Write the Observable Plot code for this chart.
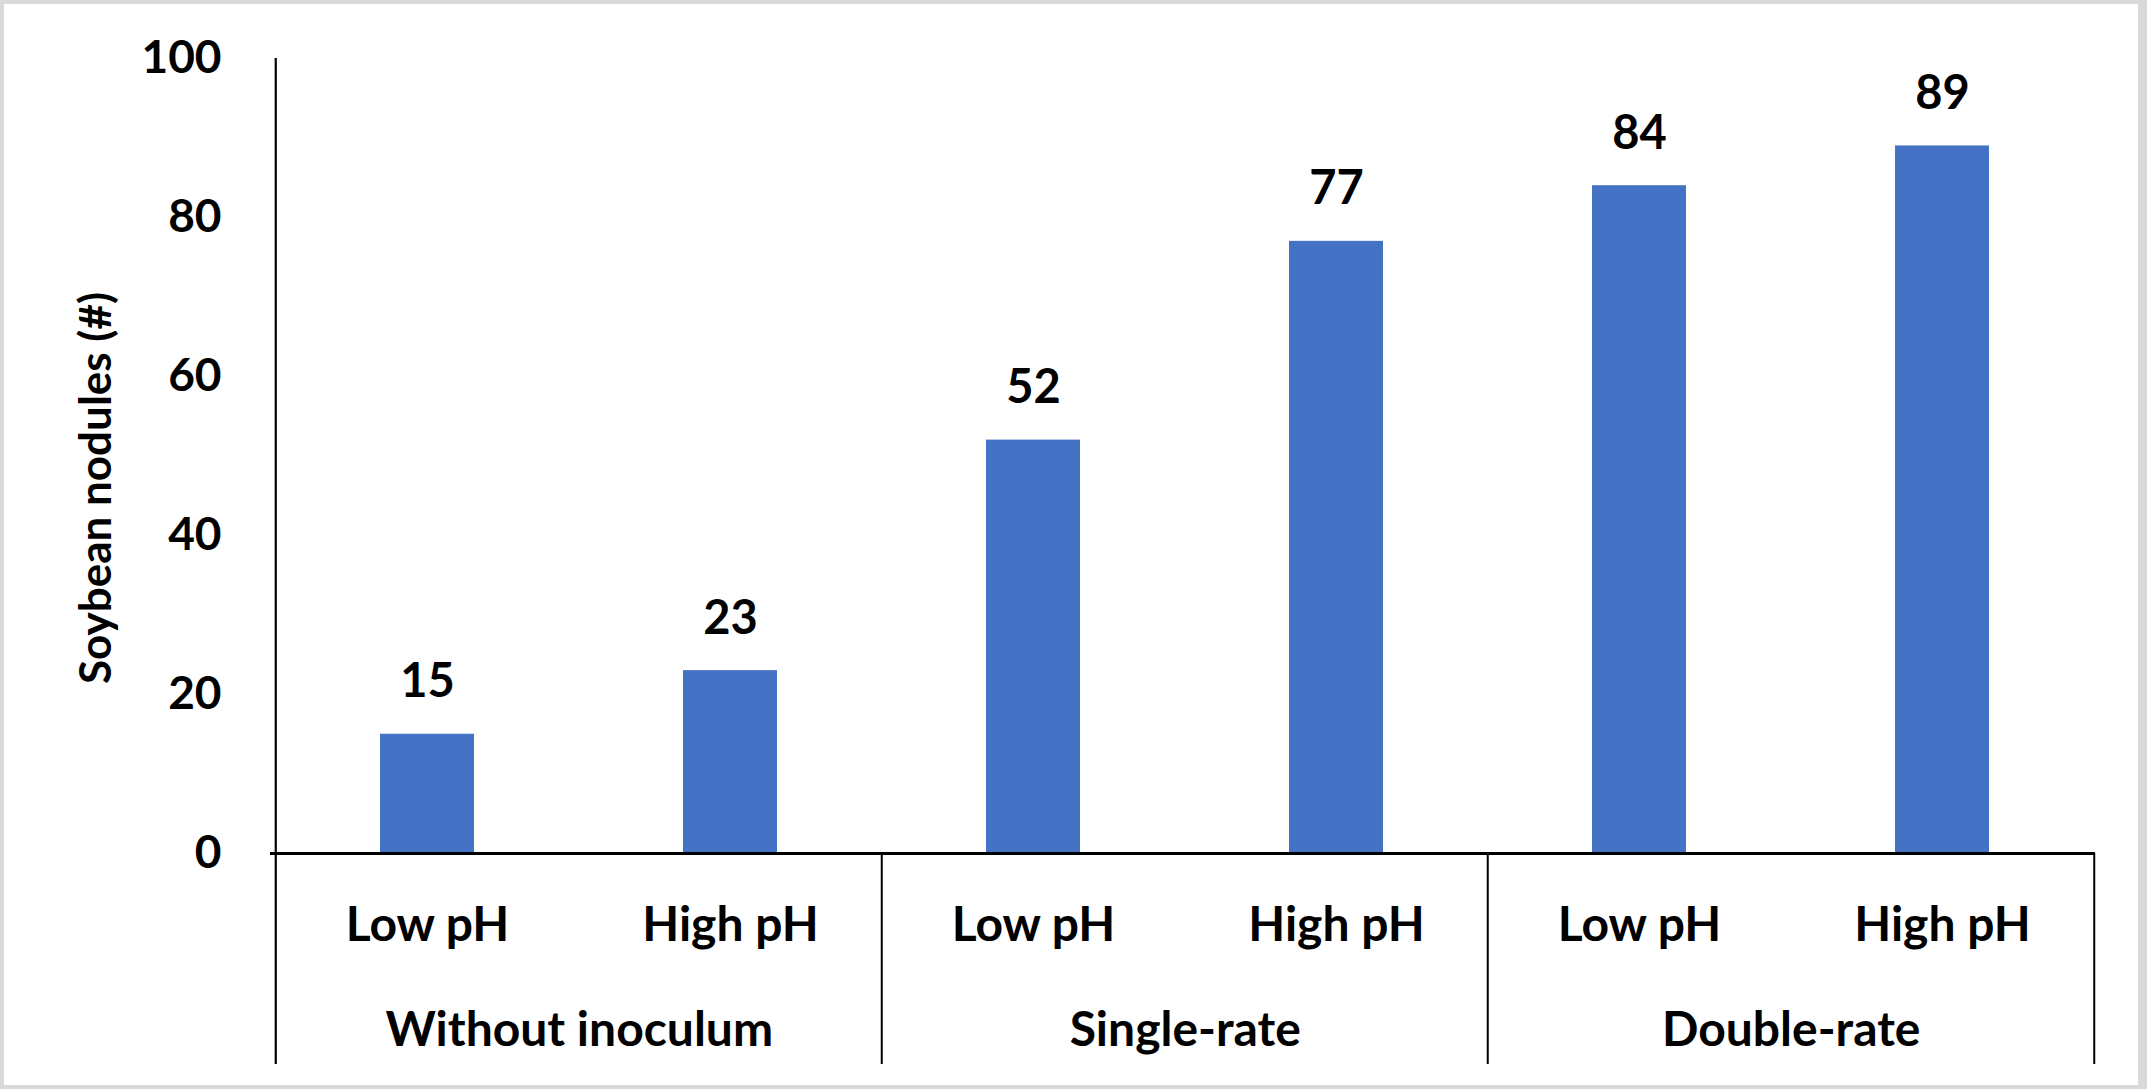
<!DOCTYPE html>
<html>
<head>
<meta charset="utf-8">
<script src="https://cdn.jsdelivr.net/npm/d3@7"></script>
<script src="https://cdn.jsdelivr.net/npm/@observablehq/plot@0.6"></script>
<style>
  html, body { margin: 0; padding: 0; background: #fff; }
  #wrap { position: relative; width: 2147px; height: 1089px; overflow: hidden; }
  #wrap svg { position: absolute; left: 0; top: 0; }
  #border { position: absolute; left: 0; top: 0; width: 2147px; height: 1089px; box-sizing: border-box;
            border: 4px solid #d9d9d9; border-right-width: 9px; pointer-events: none; }
</style>
</head>
<body>
<div id="wrap"><div id="border"></div></div>
<script>
// ---- data ----
const groups = ["Without inoculum", "Without inoculum", "Single-rate", "Single-rate", "Double-rate", "Double-rate"];
const phLevels = ["Low pH", "High pH", "Low pH", "High pH", "Low pH", "High pH"];
const nodules = [15, 23, 52, 77, 84, 89];
const yTicks = [0, 20, 40, 60, 80, 100];
const groupNames = ["Without inoculum", "Single-rate", "Double-rate"];
const yLabel = "Soybean nodules (#)";

// ---- table ----
const keys = groups.map((g, i) => g + "|" + phLevels[i]);
const rows = keys.map((k, i) => ({key: k, group: groups[i], ph: phLevels[i], value: nodules[i]}));
const groupRows = groupNames.map(g => ({group: g, key: keys[groups.indexOf(g)]}));

// ---- layout ----
const W = 2147, H = 1089;
const mL = 274, mR = 52, mT = 58, mB = 236;
const plotW = W - mL - mR, plotH = H - mT - mB;
const step = plotW / keys.length;
const lowerEnd = 1064 - (H - mB);
const font = "Lato, 'Open Sans', sans-serif";
const blue = "#4472C4";

const chart = Plot.plot({
  width: W,
  height: H,
  marginLeft: mL, marginRight: mR, marginTop: mT, marginBottom: mB,
  style: {fontFamily: font, background: "transparent", overflow: "visible"},
  x: {type: "band", domain: keys, paddingInner: 0.69, paddingOuter: 0.345, axis: null},
  y: {domain: [0, 100], axis: null},
  marks: [
    Plot.barY(rows, {x: "key", y: "value", fill: blue}),
    Plot.axisY({ticks: yTicks, tickSize: 0, tickPadding: 53, label: null,
                fontSize: 46, fontWeight: "bold", fill: "#000"}),
    // left axis line, extending through the label rows
    Plot.ruleX([keys[0]], {x: d => d, dx: -step / 2, stroke: "#000", strokeWidth: 2.2,
                           insetBottom: -lowerEnd}),
    // group dividers below baseline
    Plot.ruleX(groupRows.slice(1), {x: "key", dx: -step / 2, stroke: "#000", strokeWidth: 2,
                           insetTop: plotH, insetBottom: -lowerEnd}),
    Plot.ruleX([keys[keys.length - 1]], {x: d => d, dx: step / 2, stroke: "#000", strokeWidth: 2,
                           insetTop: plotH, insetBottom: -lowerEnd}),
    // baseline
    Plot.ruleY([0], {stroke: "#000", strokeWidth: 3, insetLeft: -4}),
    // value labels
    Plot.text(rows, {x: "key", y: "value", text: d => String(d.value), dy: -52,
                     fontSize: 47, fontWeight: "bold", fill: "#000"}),
    // pH labels
    Plot.text(rows, {x: "key", y: () => 0, text: "ph", dy: 72,
                     fontSize: 48, fontWeight: "bold", fill: "#000"}),
    // group labels
    Plot.text(groupRows, {x: "key", y: () => 0, text: "group", dx: step / 2, dy: 177,
                     fontSize: 48, fontWeight: "bold", fill: "#000"}),
    // y-axis title
    Plot.text([yLabel], {frameAnchor: "left", textAnchor: "middle", text: d => d, rotate: -90,
                     dx: 96 - mL, dy: 32, fontSize: 44, fontWeight: "bold", fill: "#000"})
  ]
});

document.getElementById("wrap").insertBefore(chart, document.getElementById("border"));
</script>
</body>
</html>
